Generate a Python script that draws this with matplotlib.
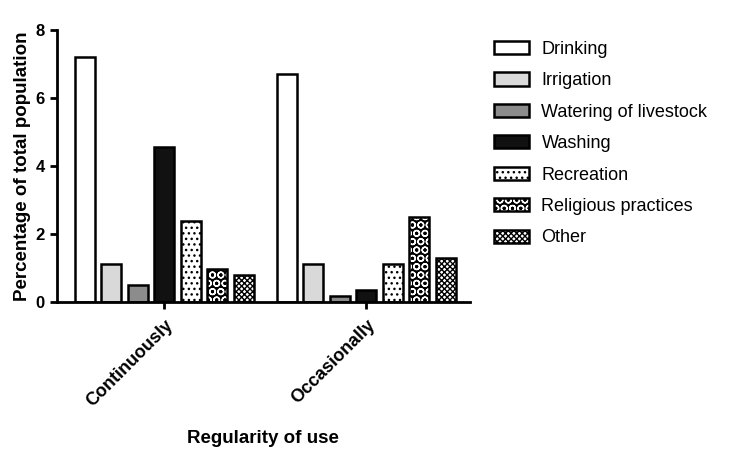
import numpy as np
import matplotlib
matplotlib.use("Agg")
import matplotlib.pyplot as plt

plt.rcParams['font.family'] = ['Liberation Sans', 'DejaVu Sans']
plt.rcParams['hatch.linewidth'] = 1.0

groups = ["Continuously", "Occasionally"]
uses = ["Drinking", "Irrigation", "Watering of livestock", "Washing",
        "Recreation", "Religious practices", "Other"]
continuously = [7.2, 1.1, 0.5, 4.55, 2.37, 0.97, 0.8]
occasionally = [6.7, 1.1, 0.18, 0.34, 1.1, 2.5, 1.28]

colors = ["white", "#d9d9d9", "#8c8c8c", "#111111", "white", "black", "white"]
# hatch drawn in a separate layer: (hatch, hatch colour)
hatches = [None, None, None, None, ("...", "black"), ("OO", "white"),
           ("xxxxxx", "black")]

fig = plt.figure(figsize=(7.46, 4.54), dpi=100)
ax = fig.add_axes([0.076, 0.3355, 0.554, 0.5985])

x = np.arange(len(groups))
spacing = 0.131
width = 0.099
values = np.array([continuously, occasionally])
handles = []
for i, use in enumerate(uses):
    pos = x + (i - 3) * spacing
    if hatches[i] is None:
        b = ax.bar(pos, values[:, i], width, color=colors[i],
                   edgecolor="black", linewidth=1.8)
        handles.append(b[0])
    else:
        h, hc = hatches[i]
        under = ax.bar(pos, values[:, i], width, color=colors[i],
                       edgecolor=hc, linewidth=0, hatch=h)
        outline = ax.bar(pos, values[:, i], width, fill=False,
                         edgecolor="black", linewidth=1.8)
        handles.append((under[0], outline[0]))

ax.set_xlim(-0.533, 1.513)
ax.set_ylim(0, 8)
ax.set_yticks([0, 2, 4, 6, 8])
ax.set_xticks(x)
ax.set_xticklabels(groups, rotation=45, ha="right", rotation_mode="anchor",
                   fontsize=13, fontweight="bold")
for lab in ax.get_yticklabels():
    lab.set_fontweight("bold")
    lab.set_fontsize(12)

ax.spines["top"].set_visible(False)
ax.spines["right"].set_visible(False)
ax.spines["left"].set_linewidth(2)
ax.spines["bottom"].set_linewidth(2)
ax.tick_params(axis="both", width=2, length=5)
ax.tick_params(axis="x", pad=6)

ax.set_ylabel("Percentage of total population", fontsize=13.5, fontweight="bold",
              labelpad=3)
ax.set_xlabel("Regularity of use", fontsize=13.5, fontweight="bold", labelpad=14)

ax.legend(handles, uses, loc="upper left", bbox_to_anchor=(1.02, 1.02),
          frameon=False, fontsize=13, handlelength=1.9, handleheight=0.75,
          handletextpad=0.7, labelspacing=0.8)

fig.savefig("out.png", dpi=100)
